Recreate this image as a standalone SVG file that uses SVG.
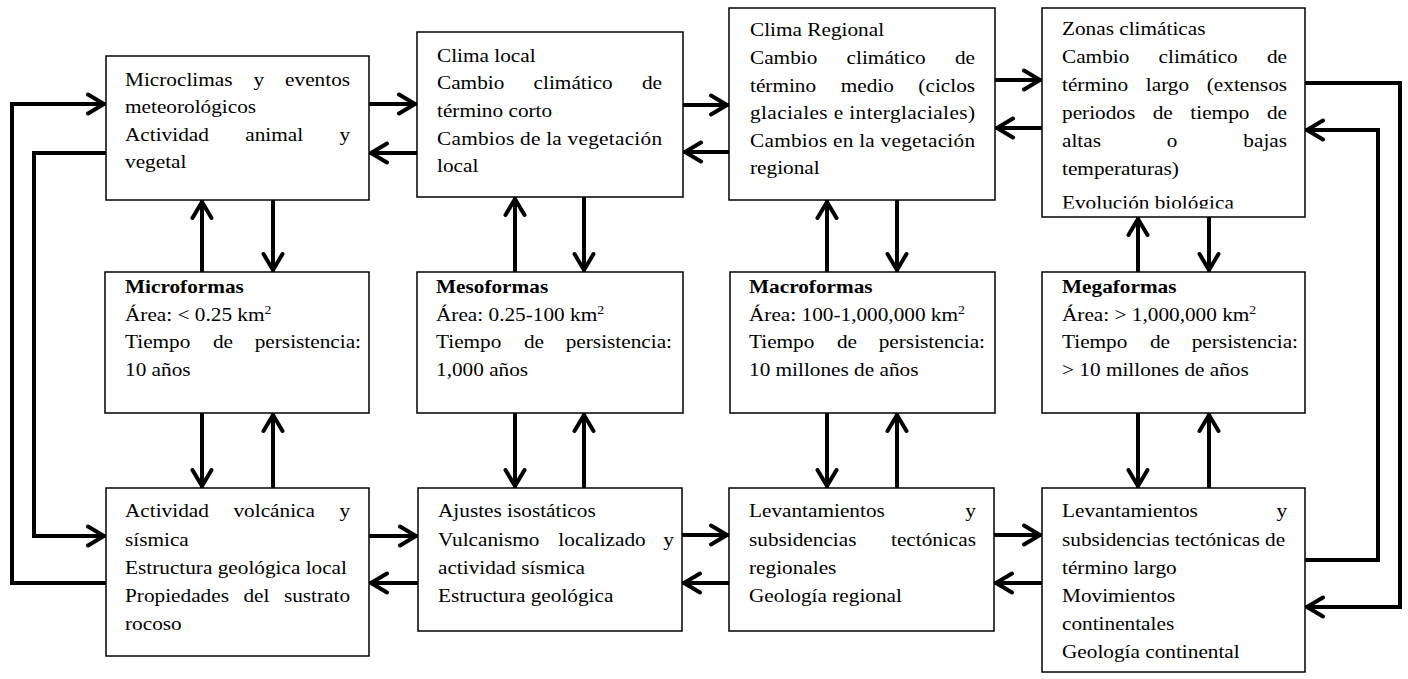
<svg xmlns="http://www.w3.org/2000/svg" width="1408" height="679" viewBox="0 0 1408 679">
<style>
.t{font-family:"Liberation Serif","Times New Roman",serif;font-size:18.5px;fill:#000}
.b{font-weight:bold}
.box{fill:#fff;stroke:#000;stroke-width:1.5}
.c{fill:none;stroke:#000;stroke-width:4;stroke-linejoin:miter;marker-end:url(#ah)}
.m{text-anchor:middle}
.e{text-anchor:end}
</style>
<defs>
<marker id="ah" markerUnits="userSpaceOnUse" markerWidth="24" markerHeight="24" viewBox="0 0 24 24" refX="22" refY="12" orient="auto">
<path d="M4,2.5 L20,12 L4,21.5" fill="none" stroke="#000" stroke-width="4" stroke-linecap="round" stroke-linejoin="round"/>
</marker>
<clipPath id="clipD"><rect x="1042" y="8" width="263" height="200.5"/></clipPath>
</defs>
<rect width="1408" height="679" fill="#fff"/>

<g id="microclimas">
<rect class="box" x="106" y="56" width="263" height="144"/>
<g class="t" transform="translate(125,0) scale(1.15,1)">
<text x="0" y="86">Microclimas</text><text class="m" x="116.3" y="86">y</text><text class="e" x="195.7" y="86">eventos</text>
<text x="0" y="113">meteorológicos</text>
<text x="0" y="141">Actividad</text><text class="m" x="129.7" y="141">animal</text><text class="e" x="195.7" y="141">y</text>
<text x="0" y="168">vegetal</text>
</g>
</g>

<g id="clima-local">
<rect class="box" x="417" y="32" width="266" height="165"/>
<g class="t" transform="translate(437,0) scale(1.15,1)">
<text x="0" y="62">Clima local</text>
<text x="0" y="89">Cambio</text><text class="m" x="118.4" y="89">climático</text><text class="e" x="195.7" y="89">de</text>
<text x="0" y="117">término corto</text>
<text x="0" y="145" textLength="195.7" lengthAdjust="spacing">Cambios de la vegetación</text>
<text x="0" y="172">local</text>
</g>
</g>

<g id="clima-regional">
<rect class="box" x="729" y="8" width="266" height="192"/>
<g class="t" transform="translate(750,0) scale(1.15,1)">
<text x="0" y="36">Clima Regional</text>
<text x="0" y="64">Cambio</text><text class="m" x="118.4" y="64">climático</text><text class="e" x="195.7" y="64">de</text>
<text x="0" y="92">término</text><text class="m" x="102" y="92">medio</text><text class="e" x="195.7" y="92">(ciclos</text>
<text x="0" y="119" textLength="195.7" lengthAdjust="spacing">glaciales e interglaciales)</text>
<text x="0" y="147" textLength="195.7" lengthAdjust="spacing">Cambios en la vegetación</text>
<text x="0" y="174">regional</text>
</g>
</g>

<g id="zonas-climaticas">
<rect class="box" x="1042" y="8" width="263" height="209"/>
<g clip-path="url(#clipD)">
<g class="t" transform="translate(1062,0) scale(1.15,1)">
<text x="0" y="35">Zonas climáticas</text>
<text x="0" y="63">Cambio</text><text class="m" x="118.4" y="63">climático</text><text class="e" x="195.7" y="63">de</text>
<text x="0" y="91">término</text><text class="m" x="91.7" y="91">largo</text><text class="e" x="195.7" y="91">(extensos</text>
<text x="0" y="119">periodos</text><text class="m" x="87.65" y="119">de</text><text class="m" x="137.3" y="119">tiempo</text><text class="e" x="195.7" y="119">de</text>
<text x="0" y="147">altas</text><text class="m" x="95.8" y="147">o</text><text class="e" x="195.7" y="147">bajas</text>
<text x="0" y="175">temperaturas)</text>
<text x="0" y="209">Evolución biológica</text>
</g>
</g>
</g>

<g id="microformas">
<rect class="box" x="105" y="272" width="264" height="141"/>
<g class="t" transform="translate(125,0) scale(1.15,1)">
<text class="b" x="0" y="293">Microformas</text>
<text x="0" y="321">Área: &lt; 0.25 km<tspan font-size="12" dy="-7">2</tspan></text>
<text x="0" y="348">Tiempo</text><text class="m" x="85.15" y="348">de</text><text class="e" x="205.2" y="348">persistencia:</text>
<text x="0" y="376">10 años</text>
</g>
</g>

<g id="mesoformas">
<rect class="box" x="417" y="272" width="266" height="141"/>
<g class="t" transform="translate(436,0) scale(1.15,1)">
<text class="b" x="0" y="293">Mesoformas</text>
<text x="0" y="321">Área: 0.25-100 km<tspan font-size="12" dy="-7">2</tspan></text>
<text x="0" y="348">Tiempo</text><text class="m" x="85.15" y="348">de</text><text class="e" x="205.2" y="348">persistencia:</text>
<text x="0" y="376">1,000 años</text>
</g>
</g>

<g id="macroformas">
<rect class="box" x="730" y="272" width="265" height="141"/>
<g class="t" transform="translate(749,0) scale(1.15,1)">
<text class="b" x="0" y="293">Macroformas</text>
<text x="0" y="321">Área: 100-1,000,000 km<tspan font-size="12" dy="-7">2</tspan></text>
<text x="0" y="348">Tiempo</text><text class="m" x="85.15" y="348">de</text><text class="e" x="205.2" y="348">persistencia:</text>
<text x="0" y="376">10 millones de años</text>
</g>
</g>

<g id="megaformas">
<rect class="box" x="1042" y="272" width="263" height="141"/>
<g class="t" transform="translate(1062,0) scale(1.15,1)">
<text class="b" x="0" y="293">Megaformas</text>
<text x="0" y="321">Área: &gt; 1,000,000 km<tspan font-size="12" dy="-7">2</tspan></text>
<text x="0" y="348">Tiempo</text><text class="m" x="85.15" y="348">de</text><text class="e" x="205.2" y="348">persistencia:</text>
<text x="0" y="376">&gt; 10 millones de años</text>
</g>
</g>

<g id="actividad-volcanica">
<rect class="box" x="106" y="488" width="263" height="168"/>
<g class="t" transform="translate(125,0) scale(1.15,1)">
<text x="0" y="517">Actividad</text><text class="m" x="129.75" y="517">volcánica</text><text class="e" x="195.7" y="517">y</text>
<text x="0" y="546">sísmica</text>
<text x="0" y="574">Estructura geológica local</text>
<text x="0" y="602">Propiedades</text><text class="m" x="114.25" y="602">del</text><text class="e" x="195.7" y="602">sustrato</text>
<text x="0" y="630">rocoso</text>
</g>
</g>

<g id="ajustes-isostaticos">
<rect class="box" x="418" y="488" width="264" height="143"/>
<g class="t" transform="translate(438,0) scale(1.15,1)">
<text x="0" y="517">Ajustes isostáticos</text>
<text x="0" y="546">Vulcanismo</text><text class="m" x="142.65" y="546">localizado</text><text class="e" x="205.2" y="546">y</text>
<text x="0" y="574">actividad sísmica</text>
<text x="0" y="602">Estructura geológica</text>
</g>
</g>

<g id="levantamientos-regionales">
<rect class="box" x="729" y="488" width="265" height="143"/>
<g class="t" transform="translate(749,0) scale(1.15,1)">
<text x="0" y="517">Levantamientos</text><text class="e" x="197.4" y="517">y</text>
<text x="0" y="546">subsidencias</text><text class="e" x="197.4" y="546">tectónicas</text>
<text x="0" y="574">regionales</text>
<text x="0" y="602">Geología regional</text>
</g>
</g>

<g id="levantamientos-largo">
<rect class="box" x="1042" y="488" width="263" height="184"/>
<g class="t" transform="translate(1062,0) scale(1.15,1)">
<text x="0" y="517">Levantamientos</text><text class="e" x="195.7" y="517">y</text>
<text x="0" y="546">subsidencias tectónicas de</text>
<text x="0" y="574">término largo</text>
<text x="0" y="602">Movimientos</text>
<text x="0" y="630">continentales</text>
<text x="0" y="658">Geología continental</text>
</g>
</g>

<g id="connectors">
<path class="c" d="M369,104 L417,104"/>
<path class="c" d="M417,153 L369,153"/>
<path class="c" d="M683,105 L729,105"/>
<path class="c" d="M729,152 L683,152"/>
<path class="c" d="M995,80 L1042,80"/>
<path class="c" d="M1042,128 L995,128"/>
<path class="c" d="M369,536 L418,536"/>
<path class="c" d="M418,583 L369,583"/>
<path class="c" d="M682,535 L729,535"/>
<path class="c" d="M729,583 L682,583"/>
<path class="c" d="M994,535 L1042,535"/>
<path class="c" d="M1042,583 L994,583"/>
<path class="c" d="M202,272 L202,200"/>
<path class="c" d="M273,200 L273,272"/>
<path class="c" d="M515,272 L515,197"/>
<path class="c" d="M584,197 L584,272"/>
<path class="c" d="M827,272 L827,200"/>
<path class="c" d="M897,200 L897,272"/>
<path class="c" d="M1138,272 L1138,217"/>
<path class="c" d="M1209,217 L1209,272"/>
<path class="c" d="M202,413 L202,488"/>
<path class="c" d="M273,488 L273,413"/>
<path class="c" d="M515,413 L515,488"/>
<path class="c" d="M584,488 L584,413"/>
<path class="c" d="M827,413 L827,488"/>
<path class="c" d="M897,488 L897,413"/>
<path class="c" d="M1138,413 L1138,488"/>
<path class="c" d="M1209,488 L1209,413"/>
<path class="c" d="M106,583 L12,583 L12,104 L106,104"/>
<path class="c" d="M106,153 L34,153 L34,536 L106,536"/>
<path class="c" d="M1305,83 L1400,83 L1400,607 L1305,607"/>
<path class="c" d="M1305,560 L1378,560 L1378,130 L1305,130"/>
</g>
</svg>
